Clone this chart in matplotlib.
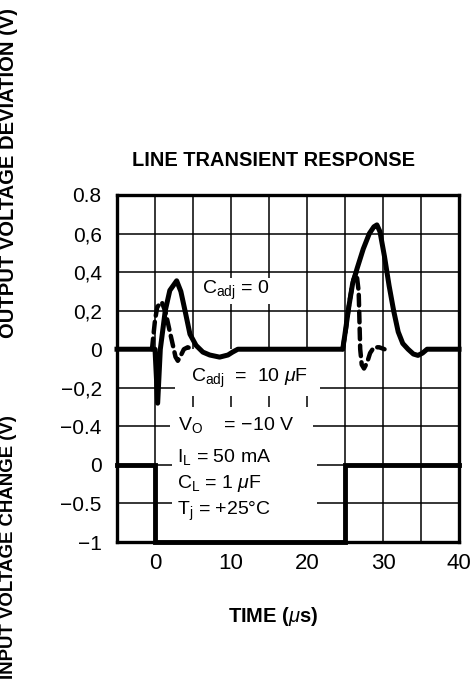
# -*- coding: utf-8 -*-
"""
Line transient response (output deviation and input step on one grid)
"""

import numpy as np
import matplotlib
matplotlib.use("Agg")
import matplotlib.pyplot as plt

# ===== 1. Data =====
# Output deviation, Cadj = 0 (solid)
solid_t = [-5, 0.0, 0.35, 0.7, 1.35, 1.95, 2.85, 3.4, 3.95, 4.6, 5.4, 6.3, 7.2,
           8.5, 9.6, 10.2, 10.9, 24.7, 25.0, 25.5, 26.0, 26.6, 27.4, 28.2, 28.8,
           29.2, 29.6, 30.2, 30.8, 31.4, 32.0, 32.6, 33.3, 34.0, 34.6, 35.2, 35.8, 40]
solid_v = [0, 0, -0.28, 0.0, 0.2, 0.305, 0.355, 0.3, 0.2, 0.078, 0.02, -0.015, -0.03,
           -0.041, -0.03, -0.015, 0, 0, 0.08, 0.22, 0.34, 0.42, 0.52, 0.6, 0.635,
           0.645, 0.61, 0.48, 0.33, 0.2, 0.09, 0.03, 0.0, -0.025, -0.032, -0.02, 0.0, 0]

# Output deviation, Cadj = 10 uF (dashed), two transients
dash1_t = [-0.4, 0.0, 0.3, 0.9, 1.4, 1.9, 2.3, 2.7, 3.0, 3.3, 3.8, 4.3, 5.0]
dash1_v = [0, 0.15, 0.22, 0.245, 0.19, 0.1, 0.03, -0.04, -0.06, -0.04, 0.0, 0.01, 0.0]
dash2_t = [24.7, 25.1, 25.6, 26.1, 26.5, 26.8, 26.9, 27.0, 27.2, 27.5, 27.9, 28.3,
           28.8, 29.5, 30.2]
dash2_v = [0, 0.1, 0.25, 0.36, 0.4, 0.3, 0.15, 0.0, -0.08, -0.1, -0.07, -0.02,
           0.01, 0.01, 0]

# Input voltage change (step)
input_t = [-5, 0, 0, 25, 25, 40]
input_v = [0, 0, -1, -1, 0, 0]

# Tick values / labels
time_ticks = [0, 10, 20, 30, 40]
out_ticks = [0.8, 0.6, 0.4, 0.2, 0, -0.2, -0.4]
out_labels = ["0.8", "0,6", "0,4", "0,2", "0", "\u22120,2", "\u22120.4"]
in_ticks = [0, -0.5, -1]
in_labels = ["0", "\u22120.5", "\u22121"]


def in_to_plot(u):
    """Input voltage sits in the lower three grid rows."""
    return -0.6 + 0.4 * np.asarray(u, dtype=float)


# ===== 2. Style =====
plt.rcParams.update({
    "font.family": ["Liberation Sans", "DejaVu Sans"],
    "mathtext.fontset": "custom",
    "mathtext.rm": "Liberation Sans",
    "mathtext.it": "Liberation Sans:italic",
    "mathtext.bf": "Liberation Sans:bold",
})

fig = plt.figure(figsize=(4.74, 6.83), dpi=100)
ax = fig.add_axes([117 / 474, 1 - 542 / 683, 342 / 474, 347 / 683])
ax.set_xlim(-5, 40)
ax.set_ylim(-1.0, 0.8)

# ===== 3. Grid (broken where the notes sit) =====
gkw = dict(color="black", linewidth=1.1, zorder=1)
for t in [0, 25, 30, 35]:
    ax.vlines(t, -1.0, 0.8, **gkw)
for t in [5, 10, 15, 20]:
    ax.vlines(t, 0, 0.8, **gkw)
    ax.vlines(t, -0.30, -0.245, **gkw)
for y in [0.6, 0.4, 0.2]:
    ax.hlines(y, -5, 40, **gkw)
for y, xl, xr in [(-0.2, 2.6, 21.7), (-0.4, 2.0, 20.8),
                  (-0.6, 2.2, 21.3), (-0.8, 2.2, 21.3)]:
    ax.hlines(y, -5, xl, **gkw)
    ax.hlines(y, xr, 40, **gkw)

# ===== 4. Traces =====
ax.plot(input_t, in_to_plot(input_v), color="black", linewidth=3.5,
        solid_joinstyle="miter", clip_on=False, zorder=3)
ax.plot(solid_t, solid_v, color="black", linewidth=3.6, clip_on=False, zorder=4)
for tt, vv in [(dash1_t, dash1_v), (dash2_t, dash2_v)]:
    ax.plot(tt, vv, color="black", linewidth=3.2, linestyle=(0, (2.4, 1.4)),
            dash_capstyle="round", zorder=5)

# ===== 5. Axes, ticks =====
for s in ax.spines.values():
    s.set_linewidth(2.4)
ax.set_xticks(time_ticks)
ax.set_xticklabels([str(t) for t in time_ticks])
ax.set_yticks(out_ticks + list(in_to_plot(in_ticks)))
ax.set_yticklabels(out_labels + in_labels)
ax.tick_params(axis="x", length=0, pad=8, labelsize=16)
ax.tick_params(axis="y", length=0, pad=11, labelsize=15)

# ===== 6. Notes =====
nkw = dict(fontsize=14, ha="left", va="baseline", zorder=2)
ax.text(6.2, 0.285, r"C$_\mathregular{adj}$ = 0",
        bbox=dict(facecolor="white", edgecolor="none", pad=1), **nkw)
ax.text(4.7, -0.171, r"C$_\mathregular{adj}$  =  10 $\mu$F", **nkw)
ax.text(3.0, -0.42, r"V$_\mathregular{O}$    = $-$10 V", **nkw)
ax.text(2.9, -0.586, r"I$_\mathregular{L}$ = 50 mA", **nkw)
ax.text(2.9, -0.72, r"C$_\mathregular{L}$ = 1 $\mu$F", **nkw)
ax.text(2.9, -0.861, r"T$_\mathregular{j}$ = +25°C", **nkw)

# ===== 7. Titles and labels =====
fig.text(274 / 474, 1 - 161 / 683, "LINE TRANSIENT RESPONSE",
         ha="center", va="center", fontsize=14.4, fontweight="bold")
fig.text(273 / 474, 1 - 617 / 683, r"TIME ($\mu$s)",
         ha="center", va="center", fontsize=14.5, fontweight="bold")
fig.text(9 / 474, 1 - 173 / 683, "OUTPUT VOLTAGE DEVIATION (V)",
         ha="center", va="center", rotation=90, fontsize=14.5, fontweight="bold")
fig.text(9 / 474, 1 - 547 / 683, "INPUT VOLTAGE CHANGE (V)",
         ha="center", va="center", rotation=90, fontsize=13.4, fontweight="bold")

fig.savefig("out.png", dpi=100)
